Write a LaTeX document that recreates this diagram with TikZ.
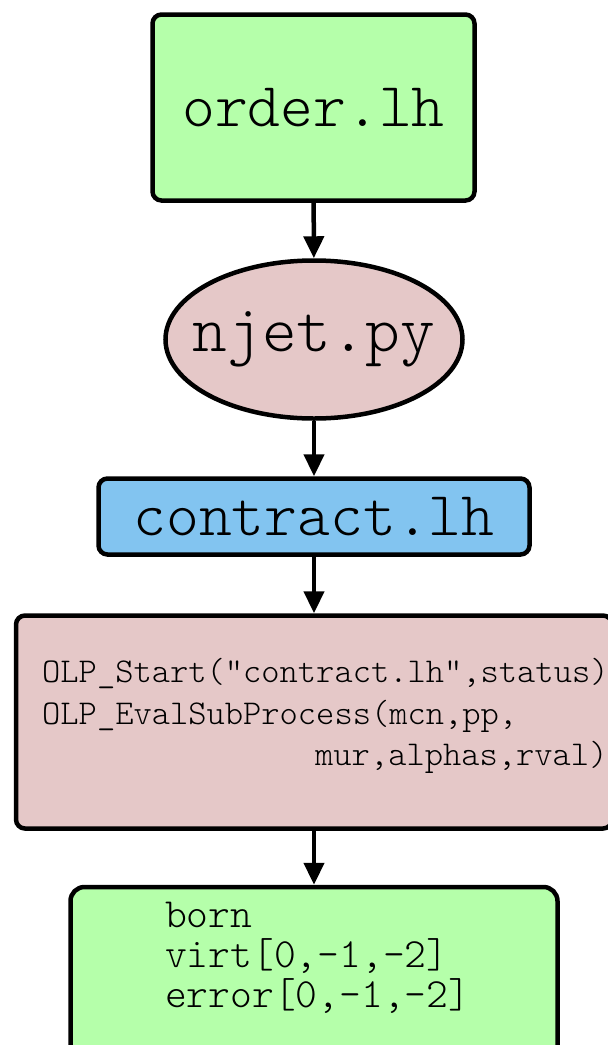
\documentclass[tikz,border=0pt]{standalone}
\usepackage{fontspec}
\setmonofont{Latin Modern Mono Light}
\usetikzlibrary{shapes.geometric,arrows.meta}
\definecolor{boxgreen}{RGB}{181,255,170}
\definecolor{boxpink}{RGB}{229,200,200}
\definecolor{boxblue}{RGB}{130,196,240}
\tikzset{
  box/.style={draw=black, line width=4.5pt, rectangle, rounded corners=9pt, inner sep=0pt, font=\ttfamily},
  oval/.style={draw=black, line width=4.5pt, ellipse, inner sep=0pt, font=\ttfamily},
  flow/.style={line width=4.5pt, -{Triangle[length=22pt,width=20pt]}},
  code/.style={anchor=base west, inner sep=0pt, font=\ttfamily}
}
\begin{document}
\begin{tikzpicture}[x=1pt, y=-1pt]
  \useasboundingbox (0,0) rectangle (608,1045);

  \node[box, fill=boxgreen, minimum width=322pt, minimum height=186pt,
        font=\ttfamily\fontsize{62.5}{66}\selectfont] (order) at (313.5,107.5) {order.lh};

  \node[oval, fill=boxpink, minimum width=297pt, minimum height=158pt,
        font=\ttfamily\fontsize{66}{70}\selectfont] (njet) at (314,339.5) {\makebox[0pt]{njet.py}};

  \node[box, fill=boxblue, minimum width=431pt, minimum height=76pt,
        font=\ttfamily\fontsize{62.5}{66}\selectfont] (contract) at (314,516.5) {contract.lh};

  \node[box, fill=boxpink, minimum width=596pt, minimum height=213pt] (olp) at (314,722) {};
  \node[code, font=\ttfamily\fontsize{34.8}{40}\selectfont] (olpa) at (42,682) {OLP\_Start("contract.lh",status)};
  \node[code, font=\ttfamily\fontsize{34.8}{40}\selectfont] (olpb) at (42,724) {OLP\_EvalSubProcess(mcn,pp,};
  \node[code, font=\ttfamily\fontsize{34.8}{40}\selectfont] (olpc) at (315,765) {mur,alphas,rval)};

  \node[box, fill=boxgreen, rounded corners=14pt, minimum width=487pt, minimum height=175pt] (result) at (314,974.5) {};
  \node[code, font=\ttfamily\fontsize{41.5}{46}\selectfont] (ra) at (165,927) {born};
  \node[code, font=\ttfamily\fontsize{41.5}{46}\selectfont] (rb) at (165,967) {virt[0,-1,-2]};
  \node[code, font=\ttfamily\fontsize{41.5}{46}\selectfont] (rc) at (165,1007) {error[0,-1,-2]};

  \draw[flow] (order) -- (njet);
  \draw[flow] (njet) -- (contract);
  \draw[flow] (contract) -- (olp);
  \draw[flow] (olp) -- (result);
\end{tikzpicture}
\end{document}
